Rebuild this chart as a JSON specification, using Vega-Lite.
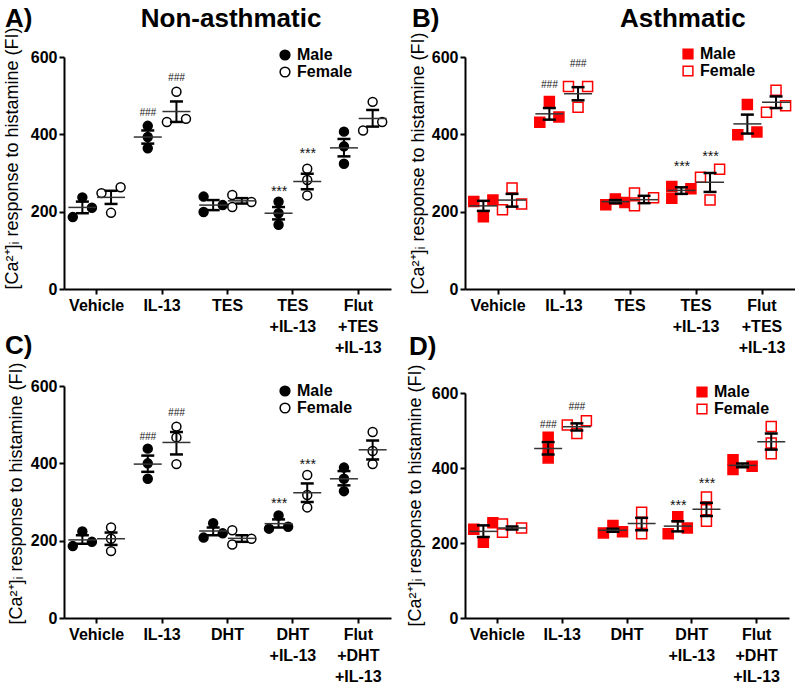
{
  "$schema": "https://vega.github.io/schema/vega-lite/v6.json",
  "padding": {"left": 2, "top": 6, "right": 0, "bottom": 0},
  "background": "white",
  "datasets": {
    "points": [
      {"panel":"A","treatment":"Vehicle","slot":"M1","sex":"Male","value":186},
      {"panel":"A","treatment":"Vehicle","slot":"M2","sex":"Male","value":237},
      {"panel":"A","treatment":"Vehicle","slot":"M3","sex":"Male","value":210},
      {"panel":"A","treatment":"Vehicle","slot":"F1","sex":"Female","value":248},
      {"panel":"A","treatment":"Vehicle","slot":"F2","sex":"Female","value":197},
      {"panel":"A","treatment":"Vehicle","slot":"F3","sex":"Female","value":263},
      {"panel":"A","treatment":"IL-13","slot":"M2","sex":"Male","value":422},
      {"panel":"A","treatment":"IL-13","slot":"M2","sex":"Male","value":393},
      {"panel":"A","treatment":"IL-13","slot":"M2","sex":"Male","value":364},
      {"panel":"A","treatment":"IL-13","slot":"F1","sex":"Female","value":432},
      {"panel":"A","treatment":"IL-13","slot":"F2","sex":"Female","value":510},
      {"panel":"A","treatment":"IL-13","slot":"F3","sex":"Female","value":440},
      {"panel":"A","treatment":"TES","slot":"M1","sex":"Male","value":239},
      {"panel":"A","treatment":"TES","slot":"M1","sex":"Male","value":199},
      {"panel":"A","treatment":"TES","slot":"M3","sex":"Male","value":217},
      {"panel":"A","treatment":"TES","slot":"F1","sex":"Female","value":212},
      {"panel":"A","treatment":"TES","slot":"F1","sex":"Female","value":243},
      {"panel":"A","treatment":"TES","slot":"F3","sex":"Female","value":225},
      {"panel":"A","treatment":"TES\n+IL-13","slot":"M2","sex":"Male","value":226},
      {"panel":"A","treatment":"TES\n+IL-13","slot":"M2","sex":"Male","value":196},
      {"panel":"A","treatment":"TES\n+IL-13","slot":"M2","sex":"Male","value":166},
      {"panel":"A","treatment":"TES\n+IL-13","slot":"F2","sex":"Female","value":311},
      {"panel":"A","treatment":"TES\n+IL-13","slot":"F2","sex":"Female","value":282},
      {"panel":"A","treatment":"TES\n+IL-13","slot":"F2","sex":"Female","value":242},
      {"panel":"A","treatment":"Flut\n+TES\n+IL-13","slot":"M2","sex":"Male","value":407},
      {"panel":"A","treatment":"Flut\n+TES\n+IL-13","slot":"M2","sex":"Male","value":369},
      {"panel":"A","treatment":"Flut\n+TES\n+IL-13","slot":"M2","sex":"Male","value":324},
      {"panel":"A","treatment":"Flut\n+TES\n+IL-13","slot":"F1","sex":"Female","value":410},
      {"panel":"A","treatment":"Flut\n+TES\n+IL-13","slot":"F2","sex":"Female","value":484},
      {"panel":"A","treatment":"Flut\n+TES\n+IL-13","slot":"F3","sex":"Female","value":432},

      {"panel":"B","treatment":"Vehicle","slot":"M1","sex":"Male","value":226},
      {"panel":"B","treatment":"Vehicle","slot":"M2","sex":"Male","value":187},
      {"panel":"B","treatment":"Vehicle","slot":"M3","sex":"Male","value":230},
      {"panel":"B","treatment":"Vehicle","slot":"F1","sex":"Female","value":205},
      {"panel":"B","treatment":"Vehicle","slot":"F2","sex":"Female","value":261},
      {"panel":"B","treatment":"Vehicle","slot":"F3","sex":"Female","value":220},
      {"panel":"B","treatment":"IL-13","slot":"M1","sex":"Male","value":431},
      {"panel":"B","treatment":"IL-13","slot":"M2","sex":"Male","value":485},
      {"panel":"B","treatment":"IL-13","slot":"M3","sex":"Male","value":445},
      {"panel":"B","treatment":"IL-13","slot":"F1","sex":"Female","value":524},
      {"panel":"B","treatment":"IL-13","slot":"F2","sex":"Female","value":470},
      {"panel":"B","treatment":"IL-13","slot":"F3","sex":"Female","value":524},
      {"panel":"B","treatment":"TES","slot":"M1","sex":"Male","value":218},
      {"panel":"B","treatment":"TES","slot":"M2","sex":"Male","value":233},
      {"panel":"B","treatment":"TES","slot":"M3","sex":"Male","value":224},
      {"panel":"B","treatment":"TES","slot":"F1","sex":"Female","value":215},
      {"panel":"B","treatment":"TES","slot":"F1","sex":"Female","value":248},
      {"panel":"B","treatment":"TES","slot":"F3","sex":"Female","value":236},
      {"panel":"B","treatment":"TES\n+IL-13","slot":"M1","sex":"Male","value":265},
      {"panel":"B","treatment":"TES\n+IL-13","slot":"M1","sex":"Male","value":235},
      {"panel":"B","treatment":"TES\n+IL-13","slot":"M3","sex":"Male","value":259},
      {"panel":"B","treatment":"TES\n+IL-13","slot":"F1","sex":"Female","value":289},
      {"panel":"B","treatment":"TES\n+IL-13","slot":"F2","sex":"Female","value":230},
      {"panel":"B","treatment":"TES\n+IL-13","slot":"F3","sex":"Female","value":310},
      {"panel":"B","treatment":"Flut\n+TES\n+IL-13","slot":"M1","sex":"Male","value":399},
      {"panel":"B","treatment":"Flut\n+TES\n+IL-13","slot":"M2","sex":"Male","value":477},
      {"panel":"B","treatment":"Flut\n+TES\n+IL-13","slot":"M3","sex":"Male","value":406},
      {"panel":"B","treatment":"Flut\n+TES\n+IL-13","slot":"F1","sex":"Female","value":457},
      {"panel":"B","treatment":"Flut\n+TES\n+IL-13","slot":"F2","sex":"Female","value":514},
      {"panel":"B","treatment":"Flut\n+TES\n+IL-13","slot":"F3","sex":"Female","value":474},

      {"panel":"C","treatment":"Vehicle","slot":"M1","sex":"Male","value":186},
      {"panel":"C","treatment":"Vehicle","slot":"M2","sex":"Male","value":224},
      {"panel":"C","treatment":"Vehicle","slot":"M3","sex":"Male","value":197},
      {"panel":"C","treatment":"Vehicle","slot":"F2","sex":"Female","value":234},
      {"panel":"C","treatment":"Vehicle","slot":"F2","sex":"Female","value":205},
      {"panel":"C","treatment":"Vehicle","slot":"F2","sex":"Female","value":173},
      {"panel":"C","treatment":"IL-13","slot":"M2","sex":"Male","value":438},
      {"panel":"C","treatment":"IL-13","slot":"M2","sex":"Male","value":400},
      {"panel":"C","treatment":"IL-13","slot":"M2","sex":"Male","value":360},
      {"panel":"C","treatment":"IL-13","slot":"F2","sex":"Female","value":495},
      {"panel":"C","treatment":"IL-13","slot":"F2","sex":"Female","value":467},
      {"panel":"C","treatment":"IL-13","slot":"F2","sex":"Female","value":398},
      {"panel":"C","treatment":"DHT","slot":"M1","sex":"Male","value":208},
      {"panel":"C","treatment":"DHT","slot":"M2","sex":"Male","value":245},
      {"panel":"C","treatment":"DHT","slot":"M3","sex":"Male","value":219},
      {"panel":"C","treatment":"DHT","slot":"F1","sex":"Female","value":227},
      {"panel":"C","treatment":"DHT","slot":"F1","sex":"Female","value":190},
      {"panel":"C","treatment":"DHT","slot":"F3","sex":"Female","value":205},
      {"panel":"C","treatment":"DHT\n+IL-13","slot":"M1","sex":"Male","value":231},
      {"panel":"C","treatment":"DHT\n+IL-13","slot":"M2","sex":"Male","value":265},
      {"panel":"C","treatment":"DHT\n+IL-13","slot":"M3","sex":"Male","value":236},
      {"panel":"C","treatment":"DHT\n+IL-13","slot":"F2","sex":"Female","value":370},
      {"panel":"C","treatment":"DHT\n+IL-13","slot":"F2","sex":"Female","value":318},
      {"panel":"C","treatment":"DHT\n+IL-13","slot":"F2","sex":"Female","value":286},
      {"panel":"C","treatment":"Flut\n+DHT\n+IL-13","slot":"M2","sex":"Male","value":389},
      {"panel":"C","treatment":"Flut\n+DHT\n+IL-13","slot":"M2","sex":"Male","value":360},
      {"panel":"C","treatment":"Flut\n+DHT\n+IL-13","slot":"M2","sex":"Male","value":328},
      {"panel":"C","treatment":"Flut\n+DHT\n+IL-13","slot":"F2","sex":"Female","value":481},
      {"panel":"C","treatment":"Flut\n+DHT\n+IL-13","slot":"F2","sex":"Female","value":432},
      {"panel":"C","treatment":"Flut\n+DHT\n+IL-13","slot":"F2","sex":"Female","value":398},

      {"panel":"D","treatment":"Vehicle","slot":"M1","sex":"Male","value":237},
      {"panel":"D","treatment":"Vehicle","slot":"M2","sex":"Male","value":202},
      {"panel":"D","treatment":"Vehicle","slot":"M3","sex":"Male","value":254},
      {"panel":"D","treatment":"Vehicle","slot":"F1","sex":"Female","value":229},
      {"panel":"D","treatment":"Vehicle","slot":"F1","sex":"Female","value":251},
      {"panel":"D","treatment":"Vehicle","slot":"F3","sex":"Female","value":240},
      {"panel":"D","treatment":"IL-13","slot":"M2","sex":"Male","value":482},
      {"panel":"D","treatment":"IL-13","slot":"M2","sex":"Male","value":451},
      {"panel":"D","treatment":"IL-13","slot":"M2","sex":"Male","value":427},
      {"panel":"D","treatment":"IL-13","slot":"F1","sex":"Female","value":515},
      {"panel":"D","treatment":"IL-13","slot":"F2","sex":"Female","value":492},
      {"panel":"D","treatment":"IL-13","slot":"F3","sex":"Female","value":526},
      {"panel":"D","treatment":"DHT","slot":"M1","sex":"Male","value":227},
      {"panel":"D","treatment":"DHT","slot":"M2","sex":"Male","value":247},
      {"panel":"D","treatment":"DHT","slot":"M3","sex":"Male","value":230},
      {"panel":"D","treatment":"DHT","slot":"F2","sex":"Female","value":282},
      {"panel":"D","treatment":"DHT","slot":"F2","sex":"Female","value":253},
      {"panel":"D","treatment":"DHT","slot":"F2","sex":"Female","value":225},
      {"panel":"D","treatment":"DHT\n+IL-13","slot":"M1","sex":"Male","value":225},
      {"panel":"D","treatment":"DHT\n+IL-13","slot":"M2","sex":"Male","value":270},
      {"panel":"D","treatment":"DHT\n+IL-13","slot":"M3","sex":"Male","value":240},
      {"panel":"D","treatment":"DHT\n+IL-13","slot":"F2","sex":"Female","value":323},
      {"panel":"D","treatment":"DHT\n+IL-13","slot":"F2","sex":"Female","value":289},
      {"panel":"D","treatment":"DHT\n+IL-13","slot":"F2","sex":"Female","value":258},
      {"panel":"D","treatment":"Flut\n+DHT\n+IL-13","slot":"M1","sex":"Male","value":422},
      {"panel":"D","treatment":"Flut\n+DHT\n+IL-13","slot":"M1","sex":"Male","value":396},
      {"panel":"D","treatment":"Flut\n+DHT\n+IL-13","slot":"M3","sex":"Male","value":405},
      {"panel":"D","treatment":"Flut\n+DHT\n+IL-13","slot":"F2","sex":"Female","value":511},
      {"panel":"D","treatment":"Flut\n+DHT\n+IL-13","slot":"F2","sex":"Female","value":467},
      {"panel":"D","treatment":"Flut\n+DHT\n+IL-13","slot":"F2","sex":"Female","value":438}
    ],
    "stats": [
      {"panel":"A","treatment":"Vehicle","slot":"M2","mean":211,"lo":196,"hi":226},
      {"panel":"A","treatment":"Vehicle","slot":"F2","mean":237,"lo":220,"hi":254},
      {"panel":"A","treatment":"IL-13","slot":"M2","mean":393,"lo":376,"hi":410},
      {"panel":"A","treatment":"IL-13","slot":"F2","mean":459,"lo":432,"hi":485},
      {"panel":"A","treatment":"TES","slot":"M2","mean":217,"lo":204,"hi":230},
      {"panel":"A","treatment":"TES","slot":"F2","mean":228,"lo":221,"hi":235},
      {"panel":"A","treatment":"TES\n+IL-13","slot":"M2","mean":196,"lo":180,"hi":212},
      {"panel":"A","treatment":"TES\n+IL-13","slot":"F2","mean":278,"lo":258,"hi":298},
      {"panel":"A","treatment":"Flut\n+TES\n+IL-13","slot":"M2","mean":365,"lo":343,"hi":388},
      {"panel":"A","treatment":"Flut\n+TES\n+IL-13","slot":"F2","mean":441,"lo":420,"hi":463},

      {"panel":"B","treatment":"Vehicle","slot":"M2","mean":215,"lo":202,"hi":228},
      {"panel":"B","treatment":"Vehicle","slot":"F2","mean":230,"lo":213,"hi":246},
      {"panel":"B","treatment":"IL-13","slot":"M2","mean":453,"lo":438,"hi":468},
      {"panel":"B","treatment":"IL-13","slot":"F2","mean":505,"lo":488,"hi":522},
      {"panel":"B","treatment":"TES","slot":"M2","mean":226,"lo":222,"hi":230},
      {"panel":"B","treatment":"TES","slot":"F2","mean":231,"lo":222,"hi":241},
      {"panel":"B","treatment":"TES\n+IL-13","slot":"M2","mean":255,"lo":246,"hi":263},
      {"panel":"B","treatment":"TES\n+IL-13","slot":"F2","mean":276,"lo":251,"hi":300},
      {"panel":"B","treatment":"Flut\n+TES\n+IL-13","slot":"M2","mean":427,"lo":402,"hi":451},
      {"panel":"B","treatment":"Flut\n+TES\n+IL-13","slot":"F2","mean":483,"lo":468,"hi":498},

      {"panel":"C","treatment":"Vehicle","slot":"M2","mean":202,"lo":192,"hi":214},
      {"panel":"C","treatment":"Vehicle","slot":"F2","mean":205,"lo":189,"hi":221},
      {"panel":"C","treatment":"IL-13","slot":"M2","mean":398,"lo":378,"hi":420},
      {"panel":"C","treatment":"IL-13","slot":"F2","mean":454,"lo":423,"hi":481},
      {"panel":"C","treatment":"DHT","slot":"M2","mean":225,"lo":214,"hi":234},
      {"panel":"C","treatment":"DHT","slot":"F2","mean":206,"lo":197,"hi":214},
      {"panel":"C","treatment":"DHT\n+IL-13","slot":"M2","mean":244,"lo":234,"hi":255},
      {"panel":"C","treatment":"DHT\n+IL-13","slot":"F2","mean":324,"lo":300,"hi":348},
      {"panel":"C","treatment":"Flut\n+DHT\n+IL-13","slot":"M2","mean":360,"lo":343,"hi":380},
      {"panel":"C","treatment":"Flut\n+DHT\n+IL-13","slot":"F2","mean":435,"lo":410,"hi":459},

      {"panel":"D","treatment":"Vehicle","slot":"M2","mean":231,"lo":216,"hi":247},
      {"panel":"D","treatment":"Vehicle","slot":"F2","mean":240,"lo":236,"hi":244},
      {"panel":"D","treatment":"IL-13","slot":"M2","mean":452,"lo":436,"hi":469},
      {"panel":"D","treatment":"IL-13","slot":"F2","mean":510,"lo":500,"hi":519},
      {"panel":"D","treatment":"DHT","slot":"M2","mean":234,"lo":230,"hi":238},
      {"panel":"D","treatment":"DHT","slot":"F2","mean":252,"lo":234,"hi":267},
      {"panel":"D","treatment":"DHT\n+IL-13","slot":"M2","mean":245,"lo":231,"hi":258},
      {"panel":"D","treatment":"DHT\n+IL-13","slot":"F2","mean":290,"lo":272,"hi":307},
      {"panel":"D","treatment":"Flut\n+DHT\n+IL-13","slot":"M2","mean":407,"lo":402,"hi":412},
      {"panel":"D","treatment":"Flut\n+DHT\n+IL-13","slot":"F2","mean":470,"lo":449,"hi":492}
    ],
    "notes": [
      {"panel":"A","treatment":"IL-13","slot":"M2","y":455,"label":"###"},
      {"panel":"A","treatment":"IL-13","slot":"F2","y":546,"label":"###"},
      {"panel":"A","treatment":"TES\n+IL-13","slot":"M2","y":250,"label":"***"},
      {"panel":"A","treatment":"TES\n+IL-13","slot":"F2","y":348,"label":"***"},
      {"panel":"B","treatment":"IL-13","slot":"M2","y":528,"label":"###"},
      {"panel":"B","treatment":"IL-13","slot":"F2","y":583,"label":"###"},
      {"panel":"B","treatment":"TES\n+IL-13","slot":"M2","y":315,"label":"***"},
      {"panel":"B","treatment":"TES\n+IL-13","slot":"F2","y":341,"label":"***"},
      {"panel":"C","treatment":"IL-13","slot":"M2","y":469,"label":"###"},
      {"panel":"C","treatment":"IL-13","slot":"F2","y":530,"label":"###"},
      {"panel":"C","treatment":"DHT\n+IL-13","slot":"M2","y":294,"label":"***"},
      {"panel":"C","treatment":"DHT\n+IL-13","slot":"F2","y":395,"label":"***"},
      {"panel":"D","treatment":"IL-13","slot":"M2","y":516,"label":"###"},
      {"panel":"D","treatment":"IL-13","slot":"F2","y":562,"label":"###"},
      {"panel":"D","treatment":"DHT\n+IL-13","slot":"M2","y":299,"label":"***"},
      {"panel":"D","treatment":"DHT\n+IL-13","slot":"F2","y":358,"label":"***"}
    ]
  },
  "concat": [
    {
      "width": 327, "height": 232,
      "title": {"text": "A)\u00a0\u00a0\u00a0\u00a0\u00a0\u00a0\u00a0\u00a0\u00a0\u00a0\u00a0\u00a0\u00a0\u00a0\u00a0Non-asthmatic", "dx": -59, "offset": -5},
      "encoding": {
        "x": {"field": "treatment", "type": "nominal", "scale": {"domain": ["Vehicle","IL-13","TES","TES\n+IL-13","Flut\n+TES\n+IL-13"], "paddingInner": 0, "paddingOuter": 0}, "axis": {"title": null}},
        "xOffset": {"field": "slot", "type": "nominal", "scale": {"domain": ["M1","M2","M3","F1","F2","F3"], "paddingInner": 0, "paddingOuter": 0.42}}
      },
      "layer": [
        {"data": {"name": "points"}, "transform": [{"filter": "datum.panel == 'A'"}],
         "mark": {"type": "point", "shape": "circle", "size": 80, "stroke": "black", "strokeWidth": 1.5, "opacity": 1},
         "encoding": {
           "y": {"field": "value", "type": "quantitative", "scale": {"domain": [0, 600], "nice": false}, "title": "[Ca²⁺]ᵢ response to histamine (FI)", "axis": {"values": [0, 200, 400, 600], "titleX": -43, "titleY": 101}},
           "fill": {"field": "sex", "type": "nominal", "scale": {"domain": ["Male","Female"], "range": ["black","white"]}, "legend": {"title": null, "orient": "none", "legendX": 213, "legendY": -10, "symbolStrokeColor": "black", "symbolType": "circle"}}
         }},
        {"data": {"name": "stats"}, "transform": [{"filter": "datum.panel == 'A'"}],
         "mark": {"type": "rule", "color": "black", "strokeWidth": 2},
         "encoding": {"y": {"field": "lo", "type": "quantitative", "title": "[Ca²⁺]ᵢ response to histamine (FI)"}, "y2": {"field": "hi"}}},
        {"data": {"name": "stats"}, "transform": [{"filter": "datum.panel == 'A'"}],
         "mark": {"type": "tick", "color": "black", "size": 13, "thickness": 2.5, "opacity": 1},
         "encoding": {"y": {"field": "lo", "type": "quantitative", "title": "[Ca²⁺]ᵢ response to histamine (FI)"}}},
        {"data": {"name": "stats"}, "transform": [{"filter": "datum.panel == 'A'"}],
         "mark": {"type": "tick", "color": "black", "size": 13, "thickness": 2.5, "opacity": 1},
         "encoding": {"y": {"field": "hi", "type": "quantitative", "title": "[Ca²⁺]ᵢ response to histamine (FI)"}}},
        {"data": {"name": "stats"}, "transform": [{"filter": "datum.panel == 'A'"}],
         "mark": {"type": "tick", "color": "#333333", "size": 28, "thickness": 1.5, "opacity": 1},
         "encoding": {"y": {"field": "mean", "type": "quantitative", "title": "[Ca²⁺]ᵢ response to histamine (FI)"}}},
        {"data": {"name": "notes"}, "transform": [{"filter": "datum.panel == 'A'"}],
         "mark": {"type": "text", "fontStyle": "italic", "color": "#111111", "baseline": "middle"},
         "encoding": {"y": {"field": "y", "type": "quantitative", "title": "[Ca²⁺]ᵢ response to histamine (FI)"}, "text": {"field": "label"}, "size": {"condition": {"test": "datum.label === '###'", "value": 10}, "value": 14}}}
      ]
    },
    {
      "width": 330, "height": 232,
      "title": {"text": "B)\u00a0\u00a0\u00a0\u00a0\u00a0\u00a0\u00a0\u00a0\u00a0\u00a0\u00a0\u00a0\u00a0\u00a0\u00a0\u00a0\u00a0\u00a0\u00a0\u00a0\u00a0\u00a0\u00a0\u00a0\u00a0Asthmatic", "dx": -53, "offset": 0},
      "encoding": {
        "x": {"field": "treatment", "type": "nominal", "scale": {"domain": ["Vehicle","IL-13","TES","TES\n+IL-13","Flut\n+TES\n+IL-13"], "paddingInner": 0, "paddingOuter": 0}, "axis": {"title": null}},
        "xOffset": {"field": "slot", "type": "nominal", "scale": {"domain": ["M1","M2","M3","F1","F2","F3"], "paddingInner": 0, "paddingOuter": 0.42}}
      },
      "layer": [
        {"data": {"name": "points"}, "transform": [{"filter": "datum.panel == 'B'"}],
         "mark": {"type": "point", "shape": "square", "size": 100, "stroke": "#ff0000", "strokeWidth": 1.5, "opacity": 1},
         "encoding": {
           "y": {"field": "value", "type": "quantitative", "scale": {"domain": [0, 600], "nice": false}, "title": "[Ca²⁺]ᵢ response to histamine (FI)", "axis": {"values": [0, 200, 400, 600], "titleX": -38, "titleY": 106}},
           "fill": {"field": "sex", "type": "nominal", "scale": {"domain": ["Male","Female"], "range": ["#ff0000","white"]}, "legend": {"title": null, "orient": "none", "legendX": 215, "legendY": -11, "symbolStrokeColor": "#ff0000", "symbolType": "square"}}
         }},
        {"data": {"name": "stats"}, "transform": [{"filter": "datum.panel == 'B'"}],
         "mark": {"type": "rule", "color": "black", "strokeWidth": 2},
         "encoding": {"y": {"field": "lo", "type": "quantitative", "title": "[Ca²⁺]ᵢ response to histamine (FI)"}, "y2": {"field": "hi"}}},
        {"data": {"name": "stats"}, "transform": [{"filter": "datum.panel == 'B'"}],
         "mark": {"type": "tick", "color": "black", "size": 13, "thickness": 2.5, "opacity": 1},
         "encoding": {"y": {"field": "lo", "type": "quantitative", "title": "[Ca²⁺]ᵢ response to histamine (FI)"}}},
        {"data": {"name": "stats"}, "transform": [{"filter": "datum.panel == 'B'"}],
         "mark": {"type": "tick", "color": "black", "size": 13, "thickness": 2.5, "opacity": 1},
         "encoding": {"y": {"field": "hi", "type": "quantitative", "title": "[Ca²⁺]ᵢ response to histamine (FI)"}}},
        {"data": {"name": "stats"}, "transform": [{"filter": "datum.panel == 'B'"}],
         "mark": {"type": "tick", "color": "#333333", "size": 28, "thickness": 1.5, "opacity": 1},
         "encoding": {"y": {"field": "mean", "type": "quantitative", "title": "[Ca²⁺]ᵢ response to histamine (FI)"}}},
        {"data": {"name": "notes"}, "transform": [{"filter": "datum.panel == 'B'"}],
         "mark": {"type": "text", "fontStyle": "italic", "color": "#111111", "baseline": "middle"},
         "encoding": {"y": {"field": "y", "type": "quantitative", "title": "[Ca²⁺]ᵢ response to histamine (FI)"}, "text": {"field": "label"}, "size": {"condition": {"test": "datum.label === '###'", "value": 10}, "value": 14}}}
      ]
    },
    {
      "width": 327, "height": 232,
      "title": {"text": "C)", "dx": -59, "offset": 3},
      "encoding": {
        "x": {"field": "treatment", "type": "nominal", "scale": {"domain": ["Vehicle","IL-13","DHT","DHT\n+IL-13","Flut\n+DHT\n+IL-13"], "paddingInner": 0, "paddingOuter": 0}, "axis": {"title": null}},
        "xOffset": {"field": "slot", "type": "nominal", "scale": {"domain": ["M1","M2","M3","F1","F2","F3"], "paddingInner": 0, "paddingOuter": 0.42}}
      },
      "layer": [
        {"data": {"name": "points"}, "transform": [{"filter": "datum.panel == 'C'"}],
         "mark": {"type": "point", "shape": "circle", "size": 80, "stroke": "black", "strokeWidth": 1.5, "opacity": 1},
         "encoding": {
           "y": {"field": "value", "type": "quantitative", "scale": {"domain": [0, 600], "nice": false}, "title": "[Ca²⁺]ᵢ response to histamine (FI)", "axis": {"values": [0, 200, 400, 600], "titleX": -39, "titleY": 107}},
           "fill": {"field": "sex", "type": "nominal", "scale": {"domain": ["Male","Female"], "range": ["black","white"]}, "legend": {"title": null, "orient": "none", "legendX": 213, "legendY": -3, "symbolStrokeColor": "black", "symbolType": "circle"}}
         }},
        {"data": {"name": "stats"}, "transform": [{"filter": "datum.panel == 'C'"}],
         "mark": {"type": "rule", "color": "black", "strokeWidth": 2},
         "encoding": {"y": {"field": "lo", "type": "quantitative", "title": "[Ca²⁺]ᵢ response to histamine (FI)"}, "y2": {"field": "hi"}}},
        {"data": {"name": "stats"}, "transform": [{"filter": "datum.panel == 'C'"}],
         "mark": {"type": "tick", "color": "black", "size": 13, "thickness": 2.5, "opacity": 1},
         "encoding": {"y": {"field": "lo", "type": "quantitative", "title": "[Ca²⁺]ᵢ response to histamine (FI)"}}},
        {"data": {"name": "stats"}, "transform": [{"filter": "datum.panel == 'C'"}],
         "mark": {"type": "tick", "color": "black", "size": 13, "thickness": 2.5, "opacity": 1},
         "encoding": {"y": {"field": "hi", "type": "quantitative", "title": "[Ca²⁺]ᵢ response to histamine (FI)"}}},
        {"data": {"name": "stats"}, "transform": [{"filter": "datum.panel == 'C'"}],
         "mark": {"type": "tick", "color": "#333333", "size": 28, "thickness": 1.5, "opacity": 1},
         "encoding": {"y": {"field": "mean", "type": "quantitative", "title": "[Ca²⁺]ᵢ response to histamine (FI)"}}},
        {"data": {"name": "notes"}, "transform": [{"filter": "datum.panel == 'C'"}],
         "mark": {"type": "text", "fontStyle": "italic", "color": "#111111", "baseline": "middle"},
         "encoding": {"y": {"field": "y", "type": "quantitative", "title": "[Ca²⁺]ᵢ response to histamine (FI)"}, "text": {"field": "label"}, "size": {"condition": {"test": "datum.label === '###'", "value": 10}, "value": 14}}}
      ]
    },
    {
      "width": 324, "height": 232,
      "title": {"text": "D)", "dx": -56, "offset": 4},
      "encoding": {
        "x": {"field": "treatment", "type": "nominal", "scale": {"domain": ["Vehicle","IL-13","DHT","DHT\n+IL-13","Flut\n+DHT\n+IL-13"], "paddingInner": 0, "paddingOuter": 0}, "axis": {"title": null}},
        "xOffset": {"field": "slot", "type": "nominal", "scale": {"domain": ["M1","M2","M3","F1","F2","F3"], "paddingInner": 0, "paddingOuter": 0.42}}
      },
      "layer": [
        {"data": {"name": "points"}, "transform": [{"filter": "datum.panel == 'D'"}],
         "mark": {"type": "point", "shape": "square", "size": 100, "stroke": "#ff0000", "strokeWidth": 1.5, "opacity": 1},
         "encoding": {
           "y": {"field": "value", "type": "quantitative", "scale": {"domain": [0, 600], "nice": false, "range": [232, 7]}, "title": "[Ca²⁺]ᵢ response to histamine (FI)", "axis": {"values": [0, 200, 400, 600], "titleX": -41, "titleY": 109}},
           "fill": {"field": "sex", "type": "nominal", "scale": {"domain": ["Male","Female"], "range": ["#ff0000","white"]}, "legend": {"title": null, "orient": "none", "legendX": 229, "legendY": -2, "symbolStrokeColor": "#ff0000", "symbolType": "square"}}
         }},
        {"data": {"name": "stats"}, "transform": [{"filter": "datum.panel == 'D'"}],
         "mark": {"type": "rule", "color": "black", "strokeWidth": 2},
         "encoding": {"y": {"field": "lo", "type": "quantitative", "title": "[Ca²⁺]ᵢ response to histamine (FI)"}, "y2": {"field": "hi"}}},
        {"data": {"name": "stats"}, "transform": [{"filter": "datum.panel == 'D'"}],
         "mark": {"type": "tick", "color": "black", "size": 13, "thickness": 2.5, "opacity": 1},
         "encoding": {"y": {"field": "lo", "type": "quantitative", "title": "[Ca²⁺]ᵢ response to histamine (FI)"}}},
        {"data": {"name": "stats"}, "transform": [{"filter": "datum.panel == 'D'"}],
         "mark": {"type": "tick", "color": "black", "size": 13, "thickness": 2.5, "opacity": 1},
         "encoding": {"y": {"field": "hi", "type": "quantitative", "title": "[Ca²⁺]ᵢ response to histamine (FI)"}}},
        {"data": {"name": "stats"}, "transform": [{"filter": "datum.panel == 'D'"}],
         "mark": {"type": "tick", "color": "#333333", "size": 28, "thickness": 1.5, "opacity": 1},
         "encoding": {"y": {"field": "mean", "type": "quantitative", "title": "[Ca²⁺]ᵢ response to histamine (FI)"}}},
        {"data": {"name": "notes"}, "transform": [{"filter": "datum.panel == 'D'"}],
         "mark": {"type": "text", "fontStyle": "italic", "color": "#111111", "baseline": "middle"},
         "encoding": {"y": {"field": "y", "type": "quantitative", "title": "[Ca²⁺]ᵢ response to histamine (FI)"}, "text": {"field": "label"}, "size": {"condition": {"test": "datum.label === '###'", "value": 10}, "value": 14}}}
      ]
    }
  ],
  "columns": 2,
  "spacing": {"row": 97, "column": 74},
  "bounds": "flush",
  "resolve": {"scale": {"fill": "independent"}, "legend": {"fill": "independent"}},
  "config": {
    "font": "Liberation Sans",
    "view": {"stroke": null},
    "axis": {"domainColor": "black", "domainWidth": 2, "tickColor": "black", "tickWidth": 2, "tickSize": 5, "labelFont": "Liberation Sans", "labelFontSize": 16, "labelFontWeight": "bold", "labelColor": "black", "titleFont": "Liberation Sans", "titleFontSize": 18, "titleFontWeight": "normal", "titleColor": "black", "grid": false},
    "axisX": {"labelAngle": 0, "labelExpr": "split(datum.label, '\\n')", "labelLineHeight": 21, "labelPadding": 3, "labelBaseline": "top"},
    "axisY": {"labelPadding": 2, "titleBaseline": "bottom"},
    "title": {"font": "Liberation Sans", "fontSize": 26, "fontWeight": "bold", "color": "black", "anchor": "start", "frame": "group", "baseline": "alphabetic"},
    "legend": {"labelFont": "Liberation Sans", "labelFontSize": 16, "labelFontWeight": "bold", "labelColor": "black", "symbolSize": 95, "symbolStrokeWidth": 1.5, "rowPadding": 1, "labelOffset": 4, "padding": 0}
  }
}
